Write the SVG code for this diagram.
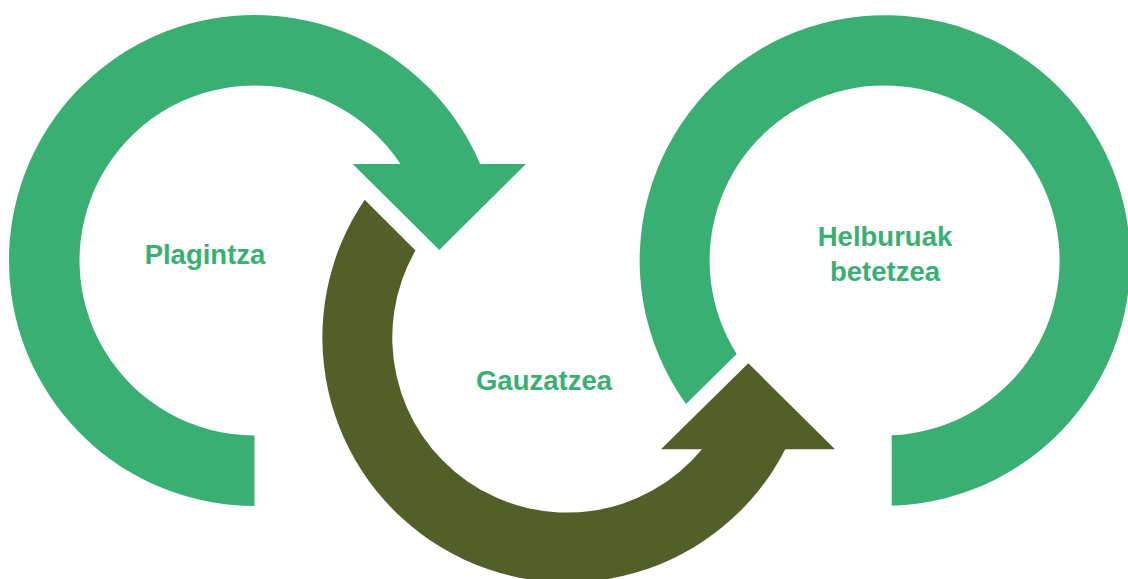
<svg xmlns="http://www.w3.org/2000/svg" width="1128" height="579" viewBox="0 0 1128 579">
<style>
.green{fill:#3AAF74}
.olive{fill:#535F29}
.lbl{font-family:"Liberation Sans",Arial,sans-serif;font-weight:700;font-size:27.5px;fill:#3AAF74;text-anchor:middle}
</style>
<rect width="1128" height="579" fill="#FFFFFF"/>
<g id="node-plagintza">
<path class="green" d="M 254.5 506 A 245.5 245.5 0 1 1 480.2 164 L 526 164 L 439.3 250 L 352.7 164 L 400.5 164 A 175 175 0 1 0 254.5 435.5 Z"/>
<text class="lbl" x="205" y="264">Plagintza</text>
</g>
<g id="node-gauzatzea">
<path class="olive" d="M 364.7 199.7 A 245 245 0 1 0 785.3 449.3 L 835 449.3 L 748.3 363.3 L 661 449.3 L 702 449.3 A 175 175 0 0 1 415.5 250.5 Z"/>
<text class="lbl" x="544" y="390">Gauzatzea</text>
</g>
<g id="node-helburuak">
<path class="green" d="M 891.7 505.7 A 245.3 245.3 0 1 0 686 404 L 736.7 354 A 175 175 0 1 1 891.7 435.3 Z"/>
<text class="lbl" x="885" y="246">Helburuak</text>
<text class="lbl" x="885" y="281">betetzea</text>
</g>
<g id="connectors"/>
</svg>
